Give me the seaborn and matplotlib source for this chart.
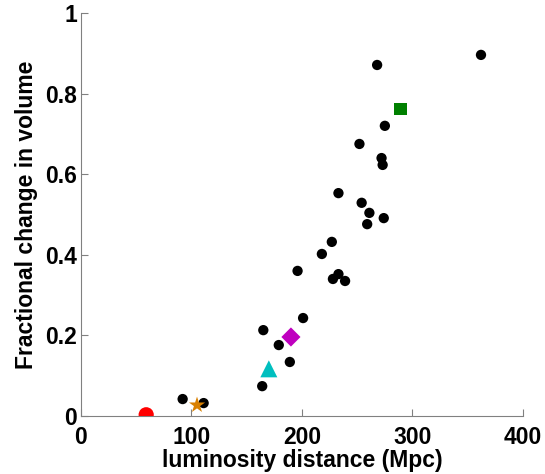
import matplotlib
matplotlib.use("Agg")
import matplotlib.pyplot as plt
import pandas as pd
import seaborn as sns

# black dots: luminosity distance (Mpc) vs fractional change in volume
dist = [92, 111, 164, 165, 179, 189, 201, 196, 218, 227, 228, 233, 239,
        233, 254, 261, 259, 274, 252, 272, 273, 275, 268, 362]
frac = [0.042, 0.032, 0.074, 0.213, 0.176, 0.134, 0.243, 0.360, 0.402, 0.432,
        0.340, 0.352, 0.335, 0.553, 0.529, 0.504, 0.476, 0.491, 0.675, 0.640,
        0.623, 0.720, 0.871, 0.896]

# highlighted events
special_dist = [59, 105, 170, 190, 289]
special_frac = [0.003, 0.027, 0.117, 0.196, 0.762]
special_marker = ["o", "*", "^", "D", "s"]
special_color = ["#FF0000", "#D98000", "#00BFBF", "#BF00BF", "#008000"]
special_size = [120, 150, 150, 95, 80]

sns.set_style("ticks")
plt.rcParams["font.family"] = ["Liberation Sans", "DejaVu Sans"]
plt.rcParams["font.weight"] = "bold"
plt.rcParams["text.color"] = "black"
plt.rcParams["axes.labelcolor"] = "black"

fig = plt.figure(figsize=(5.45, 4.74), dpi=100)
ax = fig.add_axes([0.1486, 0.1224, 0.8110, 0.8502])

df = pd.DataFrame({"dist": dist, "frac": frac})
sns.scatterplot(data=df, x="dist", y="frac", color="black", s=55, edgecolor="none", ax=ax, zorder=3)
for x, y, m, c, s in zip(special_dist, special_frac, special_marker, special_color, special_size):
    sns.scatterplot(x=[x], y=[y], marker=m, color=c, s=s, edgecolor="none", ax=ax, zorder=4)

ax.set_xlim(0, 400)
ax.set_ylim(0, 1)
ax.set_xticks([0, 100, 200, 300, 400])
ax.set_yticks([0, 0.2, 0.4, 0.6, 0.8, 1])
ax.set_yticklabels(["0", "0.2", "0.4", "0.6", "0.8", "1"])
ax.set_xlabel("luminosity distance (Mpc)", fontsize=16.5, fontweight="bold", labelpad=0.5)
ax.set_ylabel("Fractional change in volume", fontsize=16.5, fontweight="bold", labelpad=5)
ax.tick_params(direction="in", length=5, width=0.8, color="#808080", labelcolor="black", labelsize=16.5)
ax.tick_params(axis="x", pad=7)
ax.tick_params(axis="y", pad=3)
for side in ["top", "right"]:
    ax.spines[side].set_visible(False)
for side in ["left", "bottom"]:
    ax.spines[side].set_color("#808080")
    ax.spines[side].set_linewidth(0.8)
for lab in ax.get_xticklabels() + ax.get_yticklabels():
    lab.set_fontweight("bold")

fig.savefig("out.png", dpi=100)
plt.close(fig)
